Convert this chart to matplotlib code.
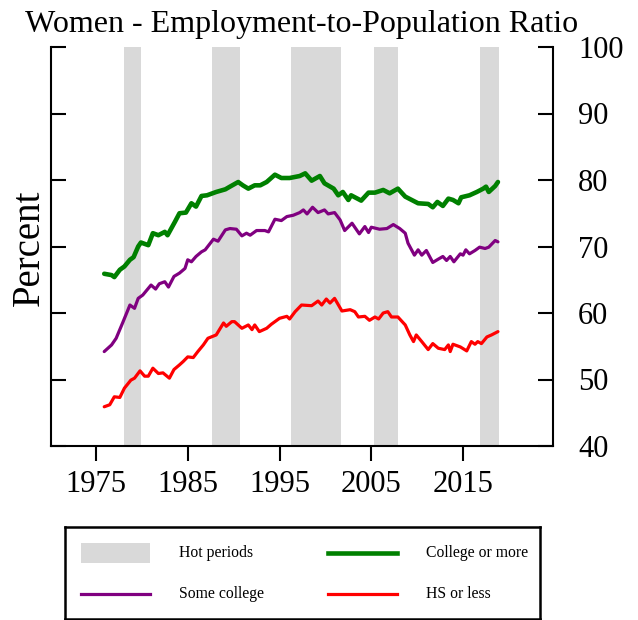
import matplotlib
matplotlib.use("Agg")
import matplotlib.pyplot as plt
from matplotlib.patches import Rectangle
from matplotlib.lines import Line2D

# ---------------- data ----------------
hot_periods = [(1978.1, 1979.9), (1987.6, 1990.7), (1996.3, 2001.7),
               (2005.3, 2007.9), (2016.8, 2018.9)]

college_years = [1975.9, 1976.7, 1977.0, 1977.6, 1978.1, 1978.7, 1979.1, 1979.6,
                 1979.9, 1980.7, 1981.2, 1981.8, 1982.5, 1982.8, 1983.6, 1984.1,
                 1984.8, 1985.4, 1985.9, 1986.5, 1987.1, 1988.1, 1989.1, 1989.6,
                 1990.5, 1991.0, 1991.6, 1992.3, 1992.9, 1993.6, 1994.5, 1995.2,
                 1996.1, 1997.2, 1997.8, 1998.5, 1999.4, 1999.9, 2000.9, 2001.4,
                 2001.9, 2002.5, 2002.8, 2003.9, 2004.7, 2005.4, 2006.3, 2007.0,
                 2007.9, 2008.7, 2010.1, 2011.2, 2011.7, 2012.2, 2012.8, 2013.4,
                 2013.9, 2014.5, 2014.8, 2015.7, 2016.5, 2017.2, 2017.5, 2017.8,
                 2018.5, 2018.8]
college_vals = [65.9, 65.7, 65.4, 66.5, 67.0, 68.0, 68.4, 70.0,
                70.6, 70.2, 72.0, 71.7, 72.2, 71.7, 73.7, 75.0,
                75.1, 76.5, 76.0, 77.6, 77.7, 78.2, 78.6, 79.0,
                79.7, 79.2, 78.7, 79.2, 79.2, 79.7, 80.8, 80.3,
                80.3, 80.6, 81.0, 79.9, 80.6, 79.5, 78.7, 77.7,
                78.2, 77.0, 77.7, 76.9, 78.1, 78.1, 78.5, 78.0,
                78.7, 77.5, 76.5, 76.4, 75.9, 76.7, 76.1, 77.2,
                77.0, 76.5, 77.4, 77.7, 78.2, 78.7, 79.0, 78.2,
                79.1, 79.7]

some_years = [1975.9, 1976.3, 1976.7, 1977.2, 1977.9, 1978.7, 1979.2, 1979.6,
              1980.1, 1980.7, 1981.0, 1981.5, 1981.9, 1982.5, 1982.9, 1983.5,
              1984.1, 1984.7, 1985.0, 1985.4, 1985.9, 1986.5, 1986.9, 1987.8,
              1988.3, 1989.1, 1989.6, 1990.3, 1990.9, 1991.4, 1991.8, 1992.5,
              1993.4, 1993.8, 1994.5, 1995.2, 1995.8, 1996.5, 1997.2, 1997.6,
              1998.0, 1998.6, 1999.2, 1999.9, 2000.3, 2001.0, 2001.6, 2002.1,
              2002.9, 2003.7, 2004.3, 2004.7, 2005.0, 2005.9, 2006.7, 2007.4,
              2008.1, 2008.7, 2009.0, 2009.7, 2010.1, 2010.5, 2011.0, 2011.7,
              2012.3, 2012.8, 2013.2, 2013.6, 2014.0, 2014.7, 2015.0, 2015.3,
              2015.7, 2016.3, 2016.8, 2017.4, 2017.8, 2018.5, 2018.8]
some_vals = [54.2, 54.7, 55.2, 56.2, 58.5, 61.2, 60.7, 62.2,
             62.7, 63.7, 64.2, 63.6, 64.4, 64.7, 63.9, 65.5,
             66.0, 66.7, 68.0, 67.7, 68.5, 69.2, 69.5, 71.1,
             70.8, 72.5, 72.7, 72.6, 71.6, 72.0, 71.7, 72.4,
             72.4, 72.2, 74.1, 73.9, 74.5, 74.7, 75.1, 75.5,
             74.9, 75.9, 75.1, 75.5, 74.9, 75.1, 74.0, 72.4,
             73.5, 71.9, 73.0, 72.1, 72.9, 72.6, 72.7, 73.3,
             72.7, 72.0, 70.5, 68.7, 69.5, 68.7, 69.4, 67.6,
             68.1, 68.5, 67.9, 68.5, 67.7, 68.9, 68.7, 69.5,
             68.9, 69.4, 69.9, 69.7, 69.9, 70.9, 70.7]

hs_years = [1975.9, 1976.5, 1977.0, 1977.6, 1978.1, 1978.8, 1979.2, 1979.8,
            1980.3, 1980.7, 1981.2, 1981.8, 1982.3, 1983.0, 1983.5, 1984.1,
            1984.5, 1985.0, 1985.6, 1986.1, 1986.7, 1987.2, 1988.1, 1988.9,
            1989.2, 1989.8, 1990.1, 1990.9, 1991.6, 1992.0, 1992.3, 1992.8,
            1993.6, 1994.1, 1995.0, 1995.8, 1996.1, 1996.7, 1997.4, 1998.5,
            1999.2, 1999.6, 2000.1, 2000.5, 2001.0, 2001.8, 2002.7, 2003.2,
            2003.6, 2004.3, 2004.8, 2005.4, 2005.8, 2006.3, 2006.8, 2007.2,
            2007.9, 2008.7, 2009.2, 2009.6, 2009.9, 2010.5, 2011.2, 2011.7,
            2012.3, 2013.0, 2013.4, 2013.6, 2013.9, 2014.7, 2015.4, 2015.9,
            2016.3, 2016.6, 2017.0, 2017.6, 2018.1, 2018.8]
hs_vals = [45.9, 46.2, 47.4, 47.3, 48.7, 49.9, 50.2, 51.3,
           50.5, 50.5, 51.7, 50.9, 51.0, 50.2, 51.5, 52.2,
           52.7, 53.4, 53.3, 54.2, 55.2, 56.2, 56.7, 58.5,
           58.0, 58.7, 58.7, 57.7, 58.2, 57.5, 58.2, 57.2,
           57.7, 58.3, 59.2, 59.5, 59.1, 60.2, 61.2, 61.1,
           61.8, 61.2, 62.1, 61.5, 62.2, 60.3, 60.5, 60.2,
           59.4, 59.5, 58.9, 59.4, 59.1, 60.0, 60.2, 59.4,
           59.4, 58.2, 56.7, 55.7, 56.7, 55.7, 54.5, 55.4,
           54.7, 54.5, 55.2, 54.2, 55.3, 54.9, 54.3, 55.7,
           55.3, 55.7, 55.4, 56.4, 56.7, 57.2]

x_ticks = [1975, 1985, 1995, 2005, 2015]
y_ticks = [40, 50, 60, 70, 80, 90, 100]

title = "Women - Employment-to-Population Ratio"
ylabel = "Percent"
labels = ["Hot periods", "College or more", "Some college", "HS or less"]

GRAY = "#D9D9D9"
GREEN = "#008000"
PURPLE = "#800080"
RED = "#FF0000"

# ---------------- figure ----------------
plt.rcParams["font.family"] = ["Liberation Serif", "DejaVu Serif"]
W, H = 638, 620
fig = plt.figure(figsize=(W / 100, H / 100), dpi=100)
ax = fig.add_axes([51 / W, 1 - 446 / H, (553 - 51) / W, (446 - 47) / H])

for a, b in hot_periods:
    ax.axvspan(a, b, color=GRAY, lw=0, zorder=0)

ax.plot(college_years, college_vals, color=GREEN, lw=3.3, zorder=3,
        solid_joinstyle="round", solid_capstyle="round")
ax.plot(some_years, some_vals, color=PURPLE, lw=2.3, zorder=3,
        solid_joinstyle="round", solid_capstyle="round")
ax.plot(hs_years, hs_vals, color=RED, lw=2.3, zorder=3,
        solid_joinstyle="round", solid_capstyle="round")

ax.set_xlim(1970.1, 2024.8)
ax.set_ylim(40, 100)
ax.set_xticks(x_ticks)
ax.set_yticks(y_ticks)
ax.spines["top"].set_visible(False)
for s in ("left", "right", "bottom"):
    ax.spines[s].set_linewidth(1.5)
ax.tick_params(axis="x", direction="out", length=11, width=1.5, pad=6,
               labelsize=22)
ax.tick_params(axis="y", direction="in", length=11, width=1.5,
               left=True, right=True, labelleft=False, labelright=True,
               pad=18, labelsize=22)

ax.set_title(title, fontsize=23, pad=11)
fig.text(29 / W, 1 - 248 / H, ylabel, rotation=90, fontsize=28,
         ha="center", va="center")

# ---------------- legend ----------------
lax = fig.add_axes([65 / W, 1 - 619 / H, (540 - 65) / W, (619 - 527) / H])
lax.set_xlim(65, 540)
lax.set_ylim(619, 527)
lax.set_xticks([])
lax.set_yticks([])
for s in lax.spines.values():
    s.set_linewidth(1.8)

handles = [("patch", GRAY), ("line", GREEN, 3.3), ("line", PURPLE, 2.3),
           ("line", RED, 2.3)]
slots = [(81, 553), (328, 553), (81, 594), (328, 594)]
for h, (x0, yc), lab in zip(handles, slots, labels):
    if h[0] == "patch":
        lax.add_patch(Rectangle((x0, yc - 10), 69, 20, color=h[1], lw=0))
    else:
        lax.add_line(Line2D([x0, x0 + 69], [yc, yc], color=h[1], lw=h[2]))
    lax.text(x0 + 98, yc, lab, fontsize=11.3, va="center", ha="left")

fig.savefig("out.png", dpi=100)
